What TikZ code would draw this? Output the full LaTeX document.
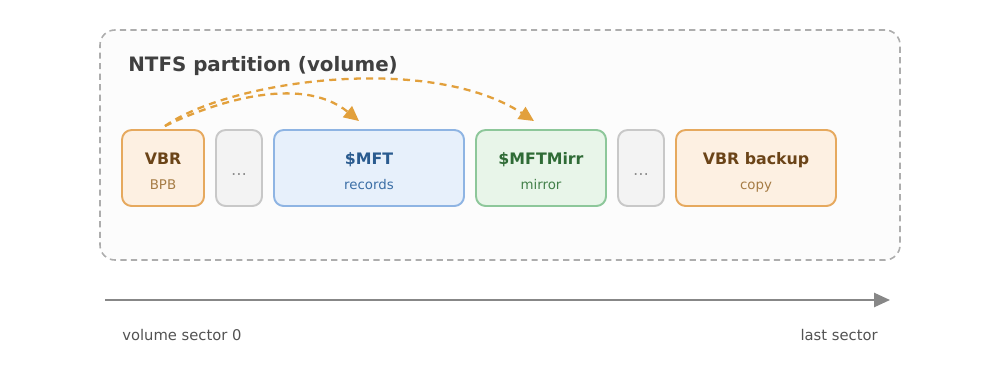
\documentclass[tikz,border=0pt]{standalone}
\usepackage{fontspec}
\setmainfont{DejaVu Sans}
\usetikzlibrary{arrows.meta, positioning}

\definecolor{orStroke}{HTML}{E6A95E}
\definecolor{orFill}{HTML}{FDF0E2}
\definecolor{orText}{HTML}{6B4418}
\definecolor{orSub}{HTML}{A67C45}
\definecolor{blStroke}{HTML}{8EB4E3}
\definecolor{blFill}{HTML}{E7F0FB}
\definecolor{blText}{HTML}{2A5B8F}
\definecolor{blSub}{HTML}{3C6FA6}
\definecolor{grStroke}{HTML}{8DC79A}
\definecolor{grFill}{HTML}{E8F5E9}
\definecolor{grText}{HTML}{2F6B36}
\definecolor{grSub}{HTML}{43804A}
\definecolor{gyStroke}{HTML}{C8C8C8}
\definecolor{gyFill}{HTML}{F3F3F3}
\definecolor{arcCol}{HTML}{E2A03C}

\def\px{0.02cm}
\tikzset{
  part/.style={draw, rounded corners=5.5pt, line width=1.1pt, inner sep=0pt,
    minimum height=76*\px},
  orpart/.style={part, draw=orStroke, fill=orFill},
  blpart/.style={part, draw=blStroke, fill=blFill},
  grpart/.style={part, draw=grStroke, fill=grFill},
  gypart/.style={part, draw=gyStroke, fill=gyFill, minimum width=46*\px},
  head/.style={anchor=base, inner sep=0pt, font=\fontsize{9}{11}\selectfont\bfseries},
  sub/.style={anchor=base, inner sep=0pt, font=\fontsize{7.6}{9}\selectfont},
  jump/.style={arcCol, dashed, dash pattern=on 4pt off 3pt, line width=1.3pt,
    -{Triangle[length=8.5pt, width=8pt]}},
}

\begin{document}
\begin{tikzpicture}[x=\px, y=-\px]
\useasboundingbox (0,0) rectangle (1000,382);

% volume frame
\node[draw=black!32, fill=black!1, dashed, dash pattern=on 3.5pt off 2.5pt,
  line width=0.9pt, rounded corners=8.5pt, minimum width=800*\px,
  minimum height=230*\px] (volume) at (500,145) {};
\node[anchor=base west, inner sep=0pt, text=black!75,
  font=\fontsize{11.3}{13}\selectfont\bfseries] (title) at (128,71) {NTFS partition (volume)};

% regions on disk
\node[orpart, minimum width=82*\px] (vbr) at (163,168) {};
\node[gypart] (gap1) at (239,168) {};
\node[blpart, minimum width=190*\px] (mft) at (369,168) {};
\node[grpart, minimum width=130*\px] (mirr) at (541,168) {};
\node[gypart] (gap2) at (641,168) {};
\node[orpart, minimum width=160*\px] (backup) at (756,168) {};

\node[head, text=orText] (vbrhead) at (163,164) {VBR};
\node[sub, text=orSub] (vbrsub) at (163,189) {BPB};
\node[sub, text=black!45, font=\fontsize{9}{11}\selectfont] (gap1dots) at (239,175) {…};
\node[head, text=blText] (mfthead) at (369,164) {\$MFT};
\node[sub, text=blSub] (mftsub) at (369,189) {records};
\node[head, text=grText] (mirrhead) at (541,164) {\$MFTMirr};
\node[sub, text=grSub] (mirrsub) at (541,189) {mirror};
\node[sub, text=black!45, font=\fontsize{9}{11}\selectfont] (gap2dots) at (641,175) {…};
\node[head, text=orText] (backuphead) at (756,164) {VBR backup};
\node[sub, text=orSub] (backupsub) at (756,189) {copy};

% pointers from the boot sector
\draw[jump] ([shift={(2,-3)}]vbr.north) .. controls (210,104) and (300,73) .. ([shift={(-10,-8)}]mft.north);
\draw[jump] ([shift={(2,-3)}]vbr.north) .. controls (230,80) and (430,53) .. ([shift={(-7,-8)}]mirr.north);

% sector axis
\coordinate (axstart) at (105,300);
\coordinate (axend) at (890,300);
\draw[black!47, line width=1.1pt, -{Triangle[length=9pt, width=8pt]}] (axstart) -- (axend);
\node[anchor=base west, inner sep=0pt, text=black!68, font=\fontsize{8.4}{10}\selectfont] (first) at (122,340) {volume sector 0};
\node[anchor=base east, inner sep=0pt, text=black!68, font=\fontsize{8.4}{10}\selectfont] (last) at (878,340) {last sector};
\end{tikzpicture}
\end{document}
